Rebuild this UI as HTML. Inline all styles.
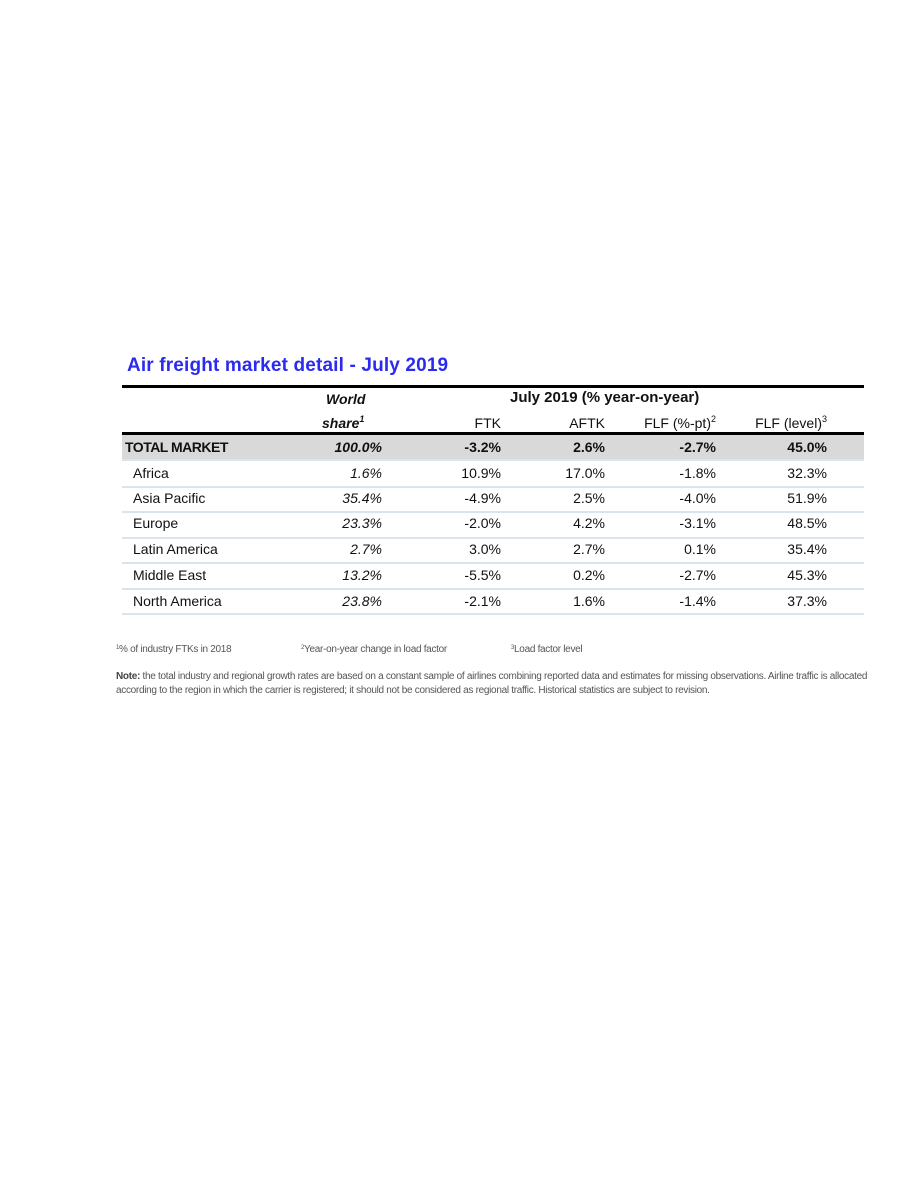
<!DOCTYPE html>
<html><head><meta charset="utf-8"><style>
body{margin:0;width:918px;height:1188px;background:#fff;position:relative;font-family:"Liberation Sans",sans-serif;overflow:hidden}
.a{position:absolute;white-space:nowrap}
.t{font-size:14px;color:#111;line-height:16px}
.r{text-align:right}
.hl{position:absolute;left:122px;width:742px}
.fn{font-size:10px;color:#555;letter-spacing:-0.3px}
sup{line-height:0;vertical-align:0;position:relative;top:-6px}
</style></head><body>
<div class="a" style="left:127px;top:355px;font-size:19px;letter-spacing:0.15px;font-weight:bold;color:#2b2bf0">Air freight market detail - July 2019</div>
<div class="hl" style="top:385px;height:3px;background:#000"></div>
<div class="a t" style="left:326px;top:391px;font-weight:bold;font-style:italic">World</div>
<div class="a t" style="left:322px;top:415px;font-weight:bold;font-style:italic">share<sup style="font-size:9px">1</sup></div>
<div class="a t" style="left:510px;top:390px;font-weight:bold;font-size:15px">July 2019 (% year-on-year)</div>
<div class="a t r" style="right:417px;top:415px">FTK</div>
<div class="a t r" style="right:313px;top:415px">AFTK</div>
<div class="a t r" style="right:202px;top:415px">FLF (%-pt)<sup style="font-size:9px">2</sup></div>
<div class="a t r" style="right:91px;top:415px">FLF (level)<sup style="font-size:9px">3</sup></div>
<div class="hl" style="top:432px;height:3px;background:#000"></div>
<div class="hl" style="top:435px;height:24px;background:#d9d9d9"></div>
<div id="rows"></div>
<div class="a fn" style="left:116px;top:644px"><sup style="font-size:6px;top:-3px">1</sup>% of industry FTKs in 2018</div>
<div class="a fn" style="left:301px;top:644px"><sup style="font-size:6px;top:-3px">2</sup>Year-on-year change in load factor</div>
<div class="a fn" style="left:511px;top:644px"><sup style="font-size:6px;top:-3px">3</sup>Load factor level</div>
<div class="a fn" style="left:116px;top:670px;line-height:14px"><b style="color:#444">Note:</b> the total industry and regional growth rates are based on a constant sample of airlines combining reported data and estimates for missing observations. Airline traffic is allocated<br>according to the region in which the carrier is registered; it should not be considered as regional traffic. Historical statistics are subject to revision.</div>
<script>
const regions=["TOTAL MARKET","Africa","Asia Pacific","Europe","Latin America","Middle East","North America"];
const share=["100.0%","1.6%","35.4%","23.3%","2.7%","13.2%","23.8%"];
const ftk=["-3.2%","10.9%","-4.9%","-2.0%","3.0%","-5.5%","-2.1%"];
const aftk=["2.6%","17.0%","2.5%","4.2%","2.7%","0.2%","1.6%"];
const flfpt=["-2.7%","-1.8%","-4.0%","-3.1%","0.1%","-2.7%","-1.4%"];
const flflvl=["45.0%","32.3%","51.9%","48.5%","35.4%","45.3%","37.3%"];
const host=document.getElementById('rows');
const tops=[439,465,490,515,541,567,593];
const seps=[459,486,511,537,562,588,613];
function cell(txt,style,cls){const d=document.createElement('div');d.className='a t '+(cls||'');d.textContent=txt;d.style.cssText=style;host.appendChild(d);return d;}
for(let i=0;i<regions.length;i++){
  const b=i===0?'font-weight:bold;':'';const y='top:'+tops[i]+'px;';
  const n=cell(regions[i],y+b+'left:'+(i===0?125:133)+'px;'+(i===0?'letter-spacing:-0.5px;':''));
  
  
  const s=cell(share[i],y+b+'right:536px;font-style:italic;','r');
  
  
  const f=cell(ftk[i],y+b+'right:417px;','r');
  
  
  const a=cell(aftk[i],y+b+'right:313px;','r');
  
  
  const p=cell(flfpt[i],y+b+'right:202px;','r');
  
  
  const l=cell(flflvl[i],y+b+'right:91px;','r');
  
  
  const r=document.createElement('div');r.className='hl';
  r.style.cssText='top:'+seps[i]+'px;height:2px;background:#dbe3ee';
  
  
  host.appendChild(r);
}
</script>
</body></html>
